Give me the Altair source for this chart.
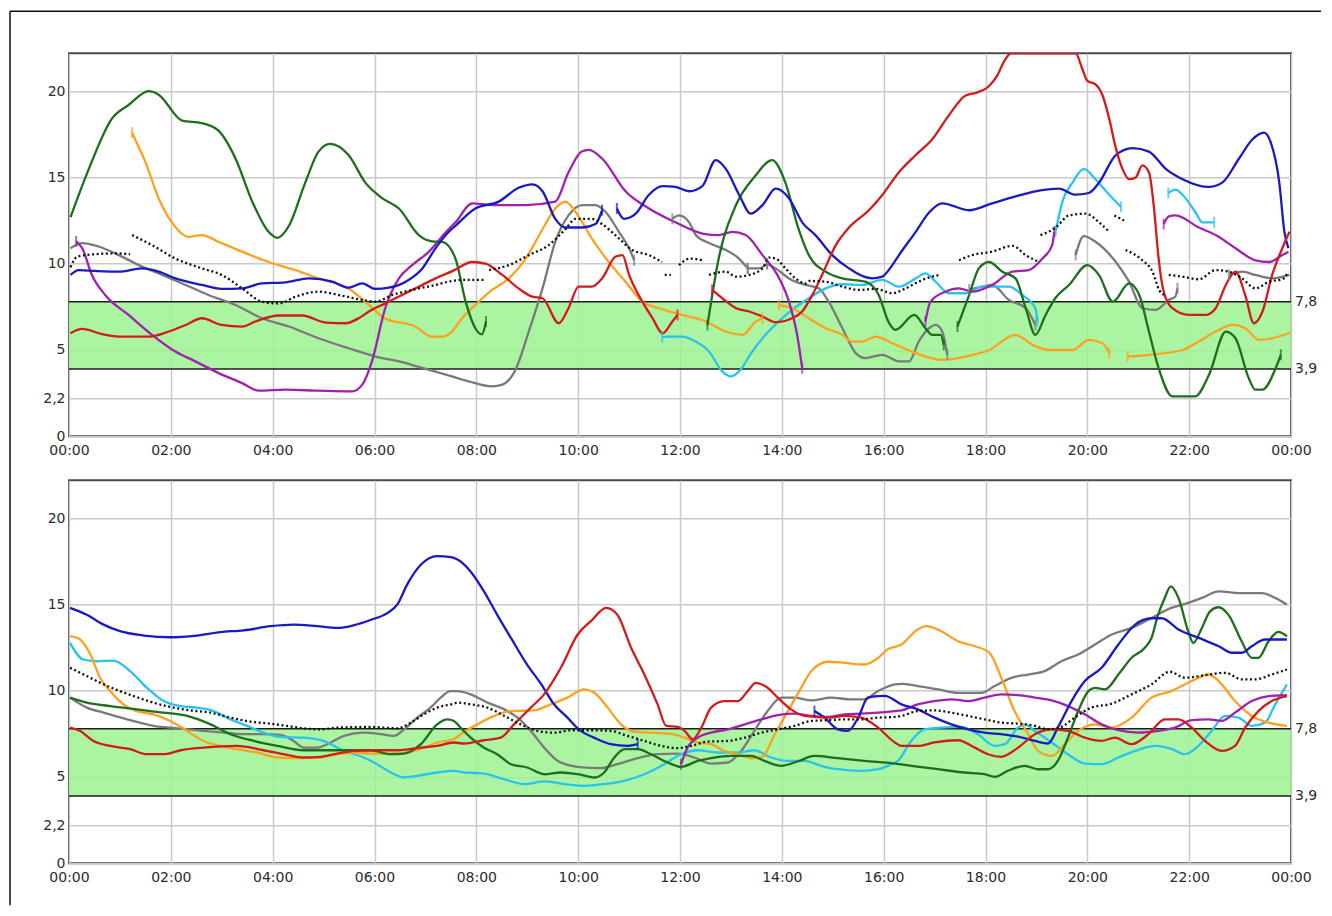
import altair as alt
import pandas as pd

# ---------------- axes / reference values ----------------
HOUR_TICKS = list(range(0, 25, 2))
VALUE_TICKS = [0, 2.2, 5, 10, 15, 20]
Y_MAX = 22.2
TARGET_LEVELS = [3.9, 7.8]
TARGET_LABELS = ["3,9", "7,8"]

SERIES = ["gray", "cyan", "orange", "purple", "green", "blue", "red"]
COLORS = ["#7a7a7a", "#29c3f0", "#ffa01e", "#a021ad", "#1d6e1d", "#1a1ac2", "#d21b1b"]

# ---------------- top panel (segments of (hour, value)) ----------------
T_GREEN = [
    [(0.03, 12.7), (0.39, 15.5), (0.84, 18.4), (1.17, 19.2), (1.57, 20.0), (1.76, 19.8), (2.22, 18.3), (2.61, 18.15),
     (2.94, 17.7), (3.27, 16.1), (3.6, 13.6), (3.92, 11.85), (4.09, 11.5), (4.32, 12.2), (4.64, 14.7), (4.9, 16.5),
     (5.13, 16.95), (5.49, 16.3), (5.82, 14.7), (6.15, 13.8), (6.48, 13.2), (6.87, 11.66), (7.13, 11.3), (7.33, 11.27),
     (7.59, 10.3), (7.79, 7.8), (7.98, 6.26), (8.11, 5.9), (8.19, 6.65)],
    [(12.54, 6.45), (12.76, 10.3), (13.1, 13.4), (13.48, 15.1), (13.81, 16.0), (14.07, 14.7), (14.33, 12.0),
     (14.53, 10.5), (14.86, 9.54), (15.19, 9.15), (15.64, 8.96), (15.9, 8.2), (16.1, 6.6), (16.23, 6.17),
     (16.6, 7.03), (16.82, 6.26), (16.95, 5.88), (17.12, 5.88), (17.18, 5.3)],
    [(17.45, 6.36), (17.68, 8.2), (17.87, 9.73), (18.07, 10.1), (18.33, 9.54), (18.59, 9.15), (18.79, 7.42),
     (18.98, 5.88), (19.18, 7.03), (19.37, 8.0), (19.64, 8.77), (20.0, 9.92), (20.23, 9.34), (20.5, 7.8),
     (20.82, 8.86), (21.02, 8.19), (21.21, 6.07), (21.4, 3.95), (21.67, 2.31), (22.12, 2.31), (22.39, 3.56),
     (22.72, 6.07), (22.91, 5.68), (23.17, 3.37), (23.3, 2.7), (23.44, 2.7), (23.7, 3.95), (23.8, 4.72)],
]
T_ORANGE = [
    [(1.24, 17.6), (1.3, 17.2), (1.5, 15.9), (1.76, 13.8), (2.02, 12.4), (2.35, 11.56), (2.61, 11.66), (2.94, 11.27),
     (3.4, 10.7), (3.92, 10.1), (4.45, 9.63), (4.9, 9.15), (5.49, 8.57), (5.89, 7.61), (6.2, 6.84), (6.8, 6.36),
     (7.13, 5.78), (7.33, 5.78), (7.52, 6.07), (7.72, 6.84), (7.98, 7.61), (8.31, 8.48), (8.64, 9.15), (8.97, 10.3),
     (9.3, 12.0), (9.55, 13.2), (9.75, 13.6), (9.95, 13.0), (10.27, 11.46), (10.6, 10.1), (10.93, 8.96),
     (11.26, 7.8), (11.59, 7.42), (12.04, 7.03), (12.44, 6.74), (12.9, 6.07), (13.23, 5.88), (13.49, 6.65),
     (13.62, 6.84)],
    [(13.94, 7.6), (14.2, 7.42), (14.53, 6.84), (14.86, 6.26), (15.19, 5.88), (15.38, 5.49), (15.58, 5.49),
     (15.84, 5.78), (16.17, 5.39), (16.63, 4.82), (17.15, 4.43), (17.61, 4.62), (18.07, 5.0), (18.59, 5.88),
     (18.92, 5.3), (19.25, 5.0), (19.71, 5.0), (20.03, 5.59), (20.3, 5.39), (20.43, 4.82)],
    [(20.79, 4.62), (21.21, 4.72), (21.87, 5.0), (22.19, 5.49), (22.52, 6.07), (22.85, 6.45), (23.1, 6.26),
     (23.37, 5.59), (23.63, 5.68), (23.98, 6.0)],
]
T_PURPLE = [
    [(0.14, 11.3), (0.26, 10.9), (0.45, 9.35), (0.71, 8.19), (1.17, 7.03), (1.63, 5.88), (2.09, 4.91), (2.48, 4.34),
     (2.94, 3.66), (3.4, 3.08), (3.73, 2.64), (4.25, 2.7), (4.9, 2.64), (5.56, 2.6), (5.76, 2.99), (5.95, 4.34),
     (6.21, 7.42), (6.48, 9.15), (6.74, 9.92), (7.07, 10.7), (7.39, 11.8), (7.59, 12.4), (7.92, 13.5), (8.31, 13.4),
     (8.97, 13.4), (9.55, 13.6), (9.81, 15.3), (10.07, 16.5), (10.21, 16.6), (10.47, 16.1), (10.93, 14.2),
     (11.39, 13.2), (11.91, 12.4), (12.44, 11.75), (12.76, 11.66), (13.03, 11.85), (13.29, 11.66), (13.62, 10.5),
     (13.95, 9.15), (14.14, 7.8), (14.3, 5.88), (14.4, 3.95)],
    [(16.82, 6.65), (16.92, 7.8), (17.21, 8.38), (17.48, 8.57), (17.74, 8.38), (18.13, 8.77), (18.53, 9.54),
     (18.85, 9.63), (19.12, 10.3), (19.31, 11.08), (19.35, 11.85)],
    [(21.5, 12.3), (21.6, 12.75), (21.73, 12.8), (22.19, 12.1), (22.52, 11.66), (22.91, 10.9), (23.3, 10.2),
     (23.57, 10.1), (23.83, 10.5), (23.95, 10.7)],
]
T_BLUE = [
    [(0.03, 9.35), (0.19, 9.63), (0.52, 9.58), (0.98, 9.54), (1.43, 9.73), (1.76, 9.54), (2.09, 9.15), (2.61, 8.77),
     (3.0, 8.54), (3.4, 8.57), (3.79, 8.86), (4.25, 8.92), (4.71, 9.15), (5.17, 8.96), (5.49, 8.61), (5.76, 8.86),
     (6.02, 8.54), (6.28, 8.61), (6.67, 9.06), (6.94, 9.73), (7.2, 10.9), (7.46, 11.85), (7.59, 12.2), (7.98, 13.2),
     (8.44, 13.6), (8.83, 14.4), (9.1, 14.6), (9.3, 14.2), (9.55, 12.6), (9.75, 12.1), (10.08, 12.1),
     (10.34, 12.3), (10.47, 13.1)],
    [(10.76, 13.2), (10.9, 12.6), (11.13, 12.9), (11.39, 14.0), (11.66, 14.5), (11.91, 14.45), (12.18, 14.2),
     (12.44, 14.5), (12.7, 16.0), (12.9, 15.5), (13.16, 14.0), (13.39, 12.9), (13.62, 13.4), (13.88, 14.35),
     (14.14, 13.8), (14.4, 12.4), (14.66, 11.66), (14.99, 10.5), (15.32, 9.73), (15.78, 9.15), (15.97, 9.25),
     (16.17, 9.92), (16.3, 10.5), (16.63, 11.85), (16.9, 13.0), (17.15, 13.5), (17.68, 13.1), (18.13, 13.5),
     (18.59, 13.9), (18.98, 14.2), (19.44, 14.35), (19.77, 14.0), (20.03, 14.1), (20.23, 14.7), (20.56, 16.3),
     (20.89, 16.7), (21.21, 16.5), (21.54, 15.5), (21.87, 14.9), (22.39, 14.45), (22.65, 14.7), (22.98, 16.1),
     (23.24, 17.2), (23.47, 17.6), (23.6, 17.05), (23.77, 14.7), (23.87, 11.85), (23.95, 10.9)],
]
T_RED = [
    [(0.03, 5.97), (0.26, 6.22), (0.65, 5.92), (0.98, 5.78), (1.57, 5.78), (1.96, 6.07), (2.29, 6.45), (2.61, 6.84),
     (3.0, 6.45), (3.4, 6.36), (3.66, 6.65), (4.12, 7.0), (4.58, 7.0), (5.04, 6.59), (5.43, 6.55), (5.69, 6.84),
     (5.89, 7.23), (6.21, 7.7), (6.54, 8.19), (6.87, 8.67), (7.2, 9.15), (7.55, 9.6), (7.92, 10.1), (8.18, 10.0),
     (8.51, 9.35), (8.83, 8.57), (9.1, 8.09), (9.3, 8.0), (9.62, 6.55), (9.81, 7.42), (10.01, 8.67), (10.27, 8.67),
     (10.47, 9.15), (10.73, 10.4), (10.87, 10.5), (11.0, 9.35), (11.26, 7.8), (11.46, 6.84), (11.66, 5.97),
     (11.85, 6.65), (11.95, 7.03)],
    [(12.63, 8.48), (12.83, 8.0), (13.1, 7.42), (13.36, 7.23), (13.62, 6.94), (13.88, 6.61), (14.2, 6.84),
     (14.4, 7.23), (14.6, 8.19), (14.79, 9.35), (15.06, 11.08), (15.32, 12.1), (15.71, 13.1), (15.97, 13.97),
     (16.3, 15.3), (16.63, 16.3), (16.95, 17.2), (17.28, 18.6), (17.61, 19.75), (17.81, 19.9), (18.07, 20.3),
     (18.23, 20.9), (18.36, 21.7), (18.5, 22.2), (19.77, 22.2), (19.9, 21.3), (20.0, 20.6), (20.16, 20.4),
     (20.3, 19.75), (20.43, 18.4), (20.56, 16.7), (20.69, 15.5), (20.82, 14.9), (20.95, 15.0), (21.08, 15.7),
     (21.21, 15.3), (21.31, 13.2), (21.4, 10.3), (21.5, 8.38), (21.67, 7.42), (21.99, 7.03), (22.32, 7.03),
     (22.52, 7.42), (22.72, 8.77), (22.91, 9.54), (23.1, 8.19), (23.27, 6.55), (23.44, 7.23), (23.63, 9.35),
     (23.83, 10.9), (23.97, 11.85)],
]
T_GRAY = [
    [(0.03, 10.9), (0.26, 11.2), (0.58, 11.0), (0.98, 10.5), (1.37, 9.92), (1.83, 9.35), (2.29, 8.77), (2.74, 8.19),
     (3.27, 7.61), (3.79, 6.84), (4.32, 6.36), (4.9, 5.68), (5.49, 5.1), (6.02, 4.62), (6.54, 4.3), (7.07, 3.85),
     (7.52, 3.47), (7.85, 3.18), (8.31, 2.89), (8.51, 2.99), (8.77, 3.85), (9.03, 6.07), (9.3, 8.57), (9.55, 11.27),
     (9.81, 12.8), (10.08, 13.4), (10.34, 13.4), (10.54, 13.0), (10.8, 11.85), (11.0, 10.9), (11.1, 10.2)],
    [(11.85, 12.6), (11.98, 12.8), (12.18, 12.4), (12.31, 11.66), (12.57, 11.2), (12.9, 10.8), (13.16, 10.3),
     (13.33, 9.73)],
    [(13.33, 9.73), (13.55, 9.73), (13.71, 10.0)],
    [(13.71, 10.0), (13.88, 9.73), (14.14, 9.15), (14.47, 8.77), (14.73, 8.57), (14.92, 7.8), (15.19, 6.26),
     (15.45, 4.82), (15.64, 4.53), (15.97, 4.72), (16.3, 4.34), (16.5, 4.34), (16.69, 5.49), (16.89, 6.26),
     (17.02, 6.45), (17.15, 6.07), (17.25, 4.72)],
    [(17.68, 8.5), (17.94, 8.67), (18.13, 8.77), (18.46, 7.9), (18.79, 7.42), (18.98, 6.45)],
    [(19.77, 10.5), (19.93, 11.6), (20.16, 11.27), (20.56, 10.1), (20.82, 8.96), (21.08, 7.42), (21.34, 7.32),
     (21.6, 7.9), (21.73, 8.1), (21.77, 8.57)],
    [(22.78, 9.35), (23.04, 9.54), (23.3, 9.35), (23.63, 9.15), (23.97, 9.35)],
]
T_CYAN = [
    [(11.65, 5.75), (11.78, 5.78), (12.04, 5.78), (12.31, 5.49), (12.57, 4.91), (12.83, 3.76), (13.0, 3.47),
     (13.16, 3.76), (13.42, 4.91), (13.68, 5.88), (13.94, 6.65), (14.2, 7.32), (14.53, 8.0), (14.86, 8.57),
     (15.19, 8.81), (15.58, 8.77), (15.97, 9.06), (16.3, 8.67), (16.63, 9.15), (16.82, 9.44), (17.02, 8.96),
     (17.28, 8.29), (17.61, 8.29), (17.94, 8.67), (18.46, 8.67), (18.72, 8.19), (18.98, 7.42), (19.02, 6.65)],
    [(19.38, 11.9), (19.51, 13.6), (19.71, 14.7), (19.93, 15.5), (20.16, 14.9), (20.43, 14.0), (20.66, 13.3)],
    [(21.59, 14.1), (21.73, 14.3), (21.87, 14.0), (22.12, 13.0), (22.26, 12.4), (22.49, 12.4)],
]
T_BLACK = [
    [(0.03, 9.8), (0.16, 10.4), (0.5, 10.55), (0.9, 10.6), (1.2, 10.55)],
    [(1.24, 11.66), (1.63, 11.08), (2.09, 10.3), (2.61, 9.73), (3.0, 9.35), (3.4, 8.57), (3.79, 7.8), (4.12, 7.7),
     (4.45, 8.09), (4.9, 8.38), (5.36, 8.15), (5.76, 7.9), (6.02, 7.8), (6.35, 8.19), (6.74, 8.48), (7.2, 8.77),
     (7.52, 9.0), (7.72, 9.06), (8.18, 9.06)],
    [(8.25, 9.63), (8.64, 9.92), (9.03, 10.5), (9.42, 11.08), (9.75, 12.0), (9.95, 12.6), (10.27, 12.6),
     (10.47, 12.3), (10.73, 11.66), (11.06, 10.8), (11.39, 10.5), (11.65, 10.1)],
    [(11.7, 9.35), (11.82, 9.35)],
    [(11.98, 9.92), (12.2, 10.3), (12.44, 10.2)],
    [(12.57, 9.35), (12.9, 9.54), (13.1, 9.25), (13.36, 9.35), (13.62, 9.73), (13.75, 10.35), (13.88, 10.3),
     (14.07, 9.73), (14.27, 9.15), (14.47, 8.86), (14.53, 9.0), (14.86, 8.96), (15.19, 8.67), (15.51, 8.48),
     (15.84, 8.54), (16.17, 8.29), (16.43, 8.57), (16.76, 9.06), (17.08, 9.35)],
    [(17.48, 10.2), (17.74, 10.5), (18.13, 10.7), (18.53, 11.04), (18.79, 10.5), (19.05, 10.1)],
    [(19.08, 11.66), (19.38, 12.1), (19.64, 12.8), (19.97, 12.9), (20.23, 12.4), (20.43, 11.85)],
    [(20.53, 12.8), (20.72, 12.5)],
    [(20.75, 10.8), (21.08, 10.2), (21.28, 9.54), (21.41, 8.48), (21.51, 8.19)],
    [(21.6, 9.35), (21.87, 9.25), (22.19, 9.1), (22.52, 9.63), (22.78, 9.54), (23.04, 9.15), (23.3, 8.57),
     (23.57, 8.96), (23.83, 9.1), (23.95, 9.54)],
]

# ---------------- bottom panel ----------------
B_BLUE = [
    [(0.02, 14.8), (0.35, 14.4), (0.68, 13.83), (1.0, 13.45), (1.47, 13.2), (1.99, 13.1), (2.51, 13.2), (2.97, 13.4),
     (3.43, 13.5), (3.96, 13.74), (4.41, 13.83), (4.87, 13.74), (5.27, 13.64), (5.6, 13.8), (5.92, 14.1),
     (6.25, 14.5), (6.45, 15.0), (6.64, 16.15), (6.91, 17.3), (7.23, 17.8), (7.5, 17.75), (7.63, 17.6),
     (7.89, 16.9), (8.15, 15.76), (8.41, 14.4), (8.68, 13.06), (9.0, 11.5), (9.27, 10.4), (9.53, 9.2), (9.79, 8.44),
     (10.05, 7.67), (10.31, 7.28), (10.64, 6.9), (10.97, 6.8), (11.17, 6.9)],
    [(14.64, 8.82), (14.84, 8.44), (15.1, 7.76), (15.3, 7.67), (15.5, 8.44), (15.69, 9.6), (15.89, 9.69),
     (16.02, 9.7), (16.35, 9.21), (16.67, 8.92), (17.0, 8.44), (17.33, 8.05), (17.66, 7.76), (17.98, 7.57),
     (18.31, 7.48), (18.64, 7.34), (18.97, 7.09), (19.23, 6.94), (19.42, 7.86), (19.69, 9.4), (19.95, 10.56),
     (20.28, 11.33), (20.61, 12.68), (20.94, 13.83), (21.26, 14.2), (21.46, 14.2), (21.79, 13.55), (22.19, 13.06),
     (22.58, 12.58), (22.84, 12.2), (23.03, 12.2), (23.23, 12.58), (23.49, 12.97), (23.92, 12.97)],
]
B_RED = [[
    (0.02, 7.86), (0.22, 7.67), (0.48, 7.09), (0.81, 6.8), (1.2, 6.61), (1.53, 6.32), (1.86, 6.32), (2.19, 6.55),
    (2.64, 6.7), (3.3, 6.8), (3.82, 6.55), (4.28, 6.28), (4.61, 6.13), (4.94, 6.17), (5.27, 6.36), (5.6, 6.51),
    (5.92, 6.55), (6.45, 6.55), (6.91, 6.7), (7.23, 6.8), (7.56, 7.0), (7.76, 6.94), (8.15, 7.13), (8.48, 7.28),
    (8.74, 8.05), (9.07, 9.02), (9.33, 9.79), (9.66, 11.33), (9.99, 13.26), (10.25, 14.03), (10.55, 14.8),
    (10.77, 14.4), (11.04, 12.49), (11.3, 10.94), (11.56, 9.21), (11.73, 7.96), (11.96, 7.9), (12.09, 7.67),
    (12.25, 7.19), (12.42, 7.86), (12.61, 9.02), (12.87, 9.4), (13.14, 9.4), (13.33, 9.98), (13.49, 10.46),
    (13.72, 10.17), (13.92, 9.6), (14.18, 8.92), (14.45, 8.54), (14.91, 8.44), (15.23, 8.54), (15.56, 8.44),
    (15.89, 7.86), (16.22, 7.0), (16.35, 6.8), (16.67, 6.8), (17.0, 7.0), (17.46, 7.13), (17.79, 6.7), (18.05, 6.32),
    (18.31, 6.17), (18.64, 6.7), (18.97, 7.48), (19.3, 7.76), (19.62, 7.67), (19.95, 7.28), (20.28, 7.09),
    (20.54, 7.28), (20.87, 6.9), (21.2, 7.48), (21.52, 8.34), (21.79, 8.34), (22.05, 7.86), (22.31, 7.09),
    (22.64, 6.51), (22.9, 6.8), (23.1, 7.86), (23.36, 8.82), (23.62, 9.4), (23.92, 9.69)]]
B_ORANGE = [[
    (0.02, 13.16), (0.22, 12.97), (0.42, 12.1), (0.61, 10.75), (0.81, 9.98), (1.07, 9.21), (1.33, 8.82),
    (1.66, 8.63), (1.99, 8.25), (2.32, 7.67), (2.64, 7.09), (2.97, 6.8), (3.3, 6.61), (3.69, 6.42), (4.09, 6.13),
    (4.48, 6.09), (4.94, 6.13), (5.27, 6.32), (5.6, 6.42), (5.92, 6.36), (6.25, 6.36), (6.64, 6.42), (6.97, 6.7),
    (7.23, 7.0), (7.56, 7.19), (7.69, 7.48), (8.02, 8.05), (8.35, 8.54), (8.68, 8.82), (9.13, 8.86), (9.46, 9.21),
    (9.79, 9.6), (10.12, 10.08), (10.32, 9.88), (10.58, 9.02), (10.84, 8.05), (11.1, 7.63), (11.43, 7.57),
    (11.82, 7.5), (12.09, 7.28), (12.35, 7.0), (12.61, 6.9), (12.87, 6.51), (13.14, 6.32), (13.4, 6.09),
    (13.6, 6.13), (13.86, 7.48), (14.12, 8.82), (14.38, 10.17), (14.58, 11.14), (14.91, 11.68), (15.23, 11.62),
    (15.62, 11.52), (15.89, 11.9), (16.08, 12.4), (16.35, 12.68), (16.67, 13.55), (16.84, 13.74), (17.13, 13.45),
    (17.46, 12.87), (17.79, 12.58), (18.08, 12.2), (18.31, 10.75), (18.57, 8.82), (18.84, 7.48), (19.03, 6.51),
    (19.3, 6.22), (19.56, 6.9), (19.82, 7.67), (20.15, 8.05), (20.47, 7.86), (20.87, 8.44), (21.26, 9.6),
    (21.65, 9.98), (22.05, 10.56), (22.38, 10.94), (22.58, 10.56), (22.9, 9.4), (23.23, 8.54), (23.56, 8.15),
    (23.92, 7.96)]]
B_CYAN = [[
    (0.02, 12.77), (0.28, 11.81), (0.55, 11.71), (0.87, 11.75), (1.2, 11.14), (1.53, 10.17), (1.86, 9.4),
    (2.19, 9.11), (2.51, 9.02), (2.84, 8.82), (3.17, 8.34), (3.5, 7.96), (3.82, 7.57), (4.15, 7.32), (4.61, 7.28),
    (5.0, 7.09), (5.4, 6.51), (5.79, 6.13), (6.05, 5.74), (6.32, 5.26), (6.58, 4.97), (6.84, 5.07), (7.23, 5.26),
    (7.56, 5.36), (7.76, 5.26), (8.15, 5.2), (8.54, 4.87), (8.94, 4.59), (9.33, 4.74), (9.73, 4.59), (10.12, 4.49),
    (10.51, 4.59), (10.9, 4.78), (11.3, 5.16), (11.69, 5.74), (12.02, 6.32), (12.35, 6.55), (12.74, 6.42),
    (13.14, 6.42), (13.46, 6.55), (13.79, 6.13), (14.12, 5.93), (14.45, 5.93), (14.77, 5.65), (15.1, 5.45),
    (15.56, 5.36), (15.89, 5.45), (16.15, 5.74), (16.28, 5.93), (16.54, 7.09), (16.8, 7.76), (17.13, 7.86),
    (17.52, 7.9), (17.85, 7.48), (18.18, 6.8), (18.38, 6.9), (18.64, 7.86), (18.77, 8.05), (18.97, 7.67),
    (19.3, 7.0), (19.62, 6.32), (19.95, 5.78), (20.28, 5.74), (20.61, 6.13), (20.94, 6.51), (21.33, 6.8),
    (21.66, 6.61), (21.92, 6.32), (22.18, 6.8), (22.44, 7.67), (22.71, 8.54), (22.97, 8.44), (23.23, 7.96),
    (23.49, 8.15), (23.69, 9.21), (23.92, 10.37)]]
B_GRAY = [[
    (0.02, 9.6), (0.35, 9.02), (0.68, 8.73), (1.2, 8.29), (1.66, 7.96), (2.12, 7.82), (2.64, 7.67), (3.04, 7.57),
    (3.43, 7.48), (3.82, 7.48), (4.15, 7.44), (4.41, 7.09), (4.61, 6.7), (4.87, 6.7), (5.14, 7.0), (5.4, 7.38),
    (5.79, 7.57), (6.12, 7.48), (6.38, 7.38), (6.58, 7.76), (6.84, 8.44), (7.1, 9.02), (7.3, 9.6), (7.49, 9.98),
    (7.63, 9.98), (7.89, 9.79), (8.22, 9.31), (8.55, 8.92), (8.81, 8.44), (9.07, 7.67), (9.33, 6.71), (9.6, 5.93),
    (9.99, 5.59), (10.45, 5.51), (10.77, 5.74), (11.17, 6.09), (11.56, 6.32), (11.95, 6.36), (12.28, 6.13),
    (12.61, 5.78), (12.94, 5.84), (13.2, 6.51), (13.46, 7.67), (13.72, 8.82), (13.99, 9.6), (14.25, 9.6),
    (14.58, 9.44), (14.97, 9.6), (15.36, 9.5), (15.62, 9.5), (15.89, 9.98), (16.22, 10.37), (16.35, 10.4),
    (16.67, 10.27), (17.07, 10.08), (17.46, 9.88), (17.92, 9.88), (18.18, 10.27), (18.51, 10.75), (18.84, 10.94),
    (19.16, 11.14), (19.49, 11.71), (19.82, 12.1), (20.15, 12.68), (20.48, 13.26), (20.87, 13.64), (21.26, 14.22),
    (21.65, 14.8), (21.92, 15.03), (22.25, 15.38), (22.58, 15.76), (22.97, 15.66), (23.43, 15.66), (23.69, 15.38),
    (23.92, 14.99)]]
B_GREEN = [[
    (0.02, 9.6), (0.35, 9.31), (0.81, 9.11), (1.33, 8.92), (1.86, 8.73), (2.32, 8.54), (2.78, 8.05), (3.17, 7.48),
    (3.63, 7.09), (4.09, 6.8), (4.61, 6.55), (5.27, 6.55), (5.92, 6.55), (6.32, 6.32), (6.58, 6.36), (6.91, 6.9),
    (7.23, 8.05), (7.43, 8.34), (7.56, 8.25), (7.69, 7.86), (7.89, 7.28), (8.15, 6.7), (8.41, 6.32), (8.68, 5.74),
    (9.0, 5.55), (9.33, 5.16), (9.66, 5.26), (9.99, 5.16), (10.32, 4.97), (10.51, 5.26), (10.71, 6.13),
    (10.91, 6.61), (11.17, 6.61), (11.43, 6.32), (11.76, 5.84), (12.02, 5.59), (12.35, 5.93), (12.61, 6.09),
    (13.0, 6.22), (13.4, 6.22), (13.66, 5.93), (13.99, 5.65), (14.31, 5.9), (14.64, 6.22), (15.1, 6.09),
    (15.62, 5.93), (16.22, 5.78), (16.54, 5.65), (17.07, 5.45), (17.59, 5.26), (17.98, 5.16), (18.18, 5.01),
    (18.44, 5.36), (18.77, 5.65), (19.03, 5.45), (19.23, 5.45), (19.42, 5.93), (19.62, 7.28), (19.82, 8.82),
    (20.02, 9.98), (20.15, 10.17), (20.35, 10.08), (20.61, 10.94), (20.87, 11.91), (21.13, 12.49), (21.26, 13.06),
    (21.39, 14.41), (21.52, 15.38), (21.64, 16.05), (21.79, 15.38), (21.98, 13.45), (22.08, 12.77), (22.25, 13.64),
    (22.41, 14.6), (22.58, 14.84), (22.77, 14.41), (23.03, 12.87), (23.23, 11.91), (23.36, 11.91), (23.56, 12.87),
    (23.75, 13.41), (23.92, 13.16)]]
B_PURPLE = [[
    (12.02, 5.74), (12.15, 6.71), (12.35, 7.28), (12.61, 7.57), (12.94, 7.76), (13.27, 8.05), (13.6, 8.34),
    (13.92, 8.59), (14.25, 8.67), (14.58, 8.54), (14.91, 8.48), (15.23, 8.63), (15.56, 8.67), (15.89, 8.73),
    (16.22, 8.82), (16.35, 8.86), (16.67, 9.21), (17.0, 9.4), (17.33, 9.5), (17.66, 9.4), (17.98, 9.6), (18.31, 9.79),
    (18.64, 9.75), (18.97, 9.6), (19.3, 9.44), (19.62, 9.11), (19.95, 8.63), (20.28, 8.05), (20.61, 7.71),
    (21.0, 7.57), (21.39, 7.67), (21.72, 7.86), (22.05, 8.29), (22.38, 8.34), (22.64, 8.25), (22.9, 8.73),
    (23.23, 9.4), (23.56, 9.69), (23.92, 9.75)]]
B_BLACK = [[
    (0.02, 11.33), (0.35, 10.85), (0.68, 10.37), (1.0, 9.98), (1.33, 9.63), (1.66, 9.31), (1.99, 9.06), (2.38, 8.86),
    (2.78, 8.73), (3.17, 8.44), (3.56, 8.21), (3.96, 8.09), (4.28, 7.96), (4.61, 7.82), (4.94, 7.76), (5.27, 7.86),
    (5.92, 7.9), (6.45, 7.82), (6.71, 8.15), (6.97, 8.63), (7.23, 9.02), (7.56, 9.25), (7.63, 9.31), (7.89, 9.21),
    (8.22, 9.02), (8.55, 8.54), (8.87, 8.05), (9.2, 7.67), (9.53, 7.57), (9.86, 7.71), (10.25, 7.71), (10.64, 7.67),
    (10.97, 7.38), (11.3, 7.09), (11.63, 6.8), (11.95, 6.67), (12.22, 6.8), (12.54, 7.05), (12.94, 7.09),
    (13.27, 7.28), (13.6, 7.57), (13.92, 7.76), (14.25, 7.96), (14.58, 8.25), (14.91, 8.29), (15.23, 8.34),
    (15.56, 8.34), (15.89, 8.44), (16.22, 8.48), (16.35, 8.54), (16.67, 8.82), (17.0, 8.86), (17.33, 8.73),
    (17.66, 8.54), (17.98, 8.34), (18.31, 8.15), (18.64, 8.09), (18.97, 7.96), (19.23, 7.76), (19.49, 7.9),
    (19.75, 8.44), (20.08, 9.02), (20.48, 9.25), (20.87, 9.79), (21.26, 10.37), (21.62, 11.1), (21.92, 10.75),
    (22.31, 10.9), (22.71, 11.04), (23.03, 10.66), (23.3, 10.66), (23.62, 10.94), (23.92, 11.23)]]

TOP = {"gray": T_GRAY, "cyan": T_CYAN, "orange": T_ORANGE, "purple": T_PURPLE,
       "green": T_GREEN, "blue": T_BLUE, "red": T_RED}
BOTTOM = {"gray": B_GRAY, "cyan": B_CYAN, "orange": B_ORANGE, "purple": B_PURPLE,
          "green": B_GREEN, "blue": B_BLUE, "red": B_RED}

# ---------------- build tables ----------------
def line_rows(series_map):
    out = []
    for name, segs in series_map.items():
        for i, seg in enumerate(segs):
            for h, v in seg:
                out.append({"series": name, "key": f"{name}-{i}", "h": h, "v": v})
    return pd.DataFrame(out)


def dot_rows(segs):
    out = []
    for i, seg in enumerate(segs):
        for h, v in seg:
            out.append({"key": f"avg-{i}", "h": h, "v": v})
    return pd.DataFrame(out)


def end_rows(series_map):
    out = []
    for name, segs in series_map.items():
        for seg in segs:
            h0, v0 = seg[0]
            h1, v1 = seg[-1]
            if h0 > 0.1:
                out.append({"series": name, "h": h0, "v": v0})
            if h1 < 23.85:
                out.append({"series": name, "h": h1, "v": v1})
    return pd.DataFrame(out)


band_df = pd.DataFrame({"lo": [TARGET_LEVELS[0]], "hi": [TARGET_LEVELS[1]]})
level_df = pd.DataFrame({"v": TARGET_LEVELS, "lab": TARGET_LABELS})

W, H = 1222, 383
FONT = "DejaVu Sans"
FONT_SIZE = 14
LABEL_COLOR = "#2b2b2b"

XS = alt.Scale(domain=[0, 24], nice=False, zero=False)
YS = alt.Scale(domain=[0, Y_MAX], nice=False, zero=True)
XAXIS = alt.Axis(values=HOUR_TICKS, title=None, grid=True, ticks=False, tickSize=0, domain=False,
                 labelPadding=7, labelFlush=False, labelOverlap=False,
                 labelExpr="(datum.value % 24 < 10 ? '0' : '') + (datum.value % 24) + ':00'")
YAXIS = alt.Axis(values=VALUE_TICKS, title=None, grid=True, ticks=False, tickSize=0, domain=False,
                 labelPadding=4, labelOverlap=False,
                 labelExpr="replace(toString(datum.value), '.', ',')")
COLOR = alt.Color("series:N", scale=alt.Scale(domain=SERIES, range=COLORS), legend=None)


def panel(series_map, dot_segs, with_frame):
    xq = alt.X("h:Q", scale=XS, axis=XAXIS)
    yq = alt.Y("v:Q", scale=YS, axis=YAXIS)

    band = alt.Chart(band_df).mark_rect(fill="#9cf293", opacity=0.86).encode(
        x=alt.value(0), x2=alt.value(W),
        y=alt.Y("lo:Q", scale=YS, axis=YAXIS), y2="hi:Q")
    edges = alt.Chart(level_df).mark_rule(color="#1e1e1e", strokeWidth=1.5).encode(
        x=alt.value(0), x2=alt.value(W), y=yq)
    labels = alt.Chart(level_df).mark_text(align="left", baseline="middle", font=FONT, fontSize=FONT_SIZE,
                                           color=LABEL_COLOR).encode(
        x=alt.value(W + 4), y=yq, text="lab:N")
    lines = alt.Chart(line_rows(series_map)).mark_line(
        strokeWidth=2.3, interpolate="monotone", clip=True).encode(
        x=xq, y=yq, color=COLOR, detail="key:N")
    ends = alt.Chart(end_rows(series_map)).mark_tick(
        orient="vertical", size=11, thickness=2).encode(x=xq, y=yq, color=COLOR)
    dots = alt.Chart(dot_rows(dot_segs)).mark_line(
        color="#111111", strokeWidth=2.3, strokeDash=[2, 2.6], interpolate="monotone", clip=True).encode(
        x=xq, y=yq, detail="key:N")

    layers = [band, edges, lines, ends, dots, labels]
    if with_frame:
        one = alt.Data(values=[{"f": 1}])
        layers.append(alt.Chart(one).mark_rule(color="#111111", strokeWidth=1.5).encode(
            x=alt.value(-59), y=alt.value(-42), y2=alt.value(852)))
        layers.append(alt.Chart(one).mark_rule(color="#111111", strokeWidth=1.5).encode(
            x=alt.value(-59), x2=alt.value(1252), y=alt.value(-42)))
    return alt.layer(*layers).properties(width=W, height=H)


top = panel(TOP, T_BLACK, True)
bottom = panel(BOTTOM, B_BLACK, False)

chart = alt.vconcat(top, bottom, spacing=44, bounds="flush").properties(
    padding={"left": 0, "top": 1.25, "right": 0, "bottom": 0}
).configure_view(
    stroke="#4a4a4a", strokeWidth=2
).configure_axis(
    gridColor="#c9c9c9", gridWidth=1.5, labelFont=FONT, labelFontSize=FONT_SIZE, labelColor=LABEL_COLOR
)

chart.save("out.html", embed_options={"renderer": "svg", "actions": False})
